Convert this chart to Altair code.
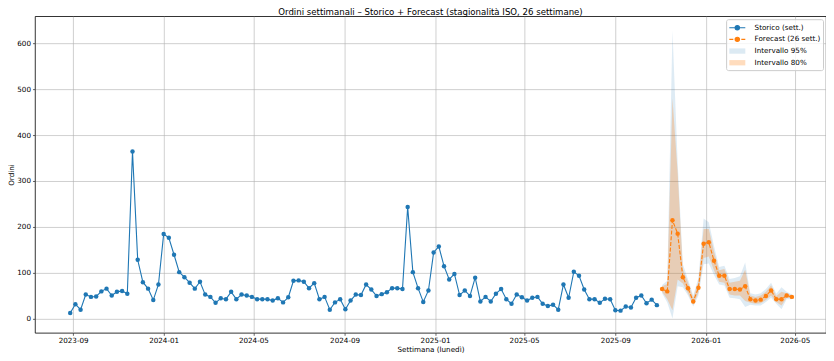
import altair as alt
import pandas as pd

# ---- data ----
hist_start = "2023-08-28"
hist_values = [
    12, 31, 19, 52, 47, 48, 59, 65, 50, 58, 60, 54, 364, 128, 79, 65, 40, 74,
    184, 176, 139, 101, 90, 78, 65, 80, 52, 47, 34, 44, 42, 58,
    42, 52, 50, 47, 42, 42, 42, 39, 44, 35, 46, 82, 83, 80, 66, 77, 42, 47,
    19, 35, 42, 20, 39, 52, 51, 74, 63, 49, 53, 57, 66, 66, 64, 243, 101, 66,
    36, 61,
    144, 157, 114, 85, 97, 51, 61, 49, 89, 37, 47, 37, 54, 64, 42, 32, 52, 46,
    39, 45, 47, 32, 27, 30, 19, 74, 45, 102, 93, 63, 42, 42, 34, 43, 42, 18,
    17, 26, 24, 45, 50, 33, 41, 29,
]

fc_start = "2025-11-03"
fc_values = [64, 59, 214, 185, 90, 66, 37, 67, 163, 166, 126, 93, 93, 64, 64,
             63, 70, 42, 39, 41, 49, 61, 42, 42, 50, 47]
lo95 = [55, 35, 0, 70, 68, 50, 26, 50, 118, 120, 95, 74, 72, 45, 44, 42, 25,
        30, 28, 28, 36, 45, 32, 20, 42, 42]
hi95 = [73, 82, 628, 340, 118, 85, 50, 88, 218, 210, 158, 112, 115, 86, 88, 92,
        122, 55, 52, 55, 64, 78, 54, 68, 58, 52]
lo80 = [58, 42, 18, 85, 76, 55, 30, 56, 132, 135, 105, 80, 78, 52, 50, 50, 38,
        34, 32, 33, 40, 50, 36, 28, 45, 44]
hi80 = [70, 75, 480, 318, 108, 78, 45, 80, 195, 195, 146, 105, 108, 78, 80, 82,
        106, 50, 47, 50, 58, 72, 49, 58, 55, 50]

y_ticks = [0, 100, 200, 300, 400, 500, 600]
x_ticks = [(2023, 9), (2024, 1), (2024, 5), (2024, 9), (2025, 1), (2025, 5),
           (2025, 9), (2026, 1), (2026, 5)]

S_HIST = "Storico (sett.)"
S_FC = "Forecast (26 sett.)"
S_95 = "Intervallo 95%"
S_80 = "Intervallo 80%"
BLUE = "#1f77b4"
ORANGE = "#ff7f0e"

hist = pd.DataFrame({
    "date": pd.date_range(hist_start, periods=len(hist_values), freq="7D").strftime("%Y-%m-%d"),
    "value": hist_values,
    "series": S_HIST,
})
fc = pd.DataFrame({
    "date": pd.date_range(fc_start, periods=len(fc_values), freq="7D").strftime("%Y-%m-%d"),
    "value": fc_values, "lo95": lo95, "hi95": hi95, "lo80": lo80, "hi80": hi80,
    "series": S_FC, "b95": S_95, "b80": S_80,
})

FONT = "DejaVu Sans"

color_scale = alt.Scale(domain=[S_HIST, S_FC, S_95, S_80],
                        range=[BLUE, ORANGE, BLUE, ORANGE])

P_SOLID = ("M-1.6,0L1.6,0M0.44,0A0.44,0.44,0,1,1,-0.44,0"
           "A0.44,0.44,0,1,1,0.44,0Z")
P_DASH = ("M-1.6,0L-0.8,0M-0.45,0L0.45,0M0.8,0L1.6,0"
          "M0.44,0A0.44,0.44,0,1,1,-0.44,0A0.44,0.44,0,1,1,0.44,0Z")
P_RECT = "M-1.6,-0.53L1.6,-0.53L1.6,0.53L-1.6,0.53Z"

legend = alt.Legend(
    title=None, orient="top-right", offset=3,
    symbolType={"expr": f"datum.value == '{S_HIST}' ? '{P_SOLID}' : datum.value == '{S_FC}' ? '{P_DASH}' : '{P_RECT}'"},
    symbolStrokeColor={"expr": f"datum.value == '{S_HIST}' ? '{BLUE}' : datum.value == '{S_FC}' ? '{ORANGE}' : 'transparent'"},
    symbolOpacity={"expr": f"datum.value == '{S_95}' ? 0.15 : datum.value == '{S_80}' ? 0.27 : 1"},
    symbolStrokeWidth=1.1, symbolSize=100, symbolOffset=2.7,
    labelOffset=11.3, labelFont=FONT, labelFontSize=7.2, labelColor="black",
    padding=2.5, rowPadding=0.7, fillColor="rgba(255,255,255,0.8)",
    strokeColor="#cccccc", cornerRadius=2,
)

x_enc = alt.X("date:T", title="Settimana (lunedì)",
              scale=alt.Scale(type="utc",
                              domain=[alt.DateTime(year=2023, month=7, date=11, hours=12, utc=True),
                                      alt.DateTime(year=2026, month=6, date=12, utc=True)]),
              axis=alt.Axis(values=[alt.DateTime(year=y, month=m, date=1, utc=True) for y, m in x_ticks],
                            labelExpr="utcFormat(datum.value, '%Y-%m')", labelAngle=0))
y_scale = alt.Scale(domain=[-31.4, 659.4], nice=False, zero=False)
y_axis = alt.Axis(values=y_ticks, title="Ordini")

area95 = alt.Chart(fc).mark_area(fillOpacity=0.15).encode(
    x=x_enc, y=alt.Y("lo95:Q", scale=y_scale, axis=y_axis), y2="hi95:Q",
    color=alt.Color("b95:N", scale=color_scale, legend=legend))
area80 = alt.Chart(fc).mark_area(fillOpacity=0.27).encode(
    x=x_enc, y=alt.Y("lo80:Q", scale=y_scale, axis=y_axis), y2="hi80:Q",
    color=alt.Color("b80:N", scale=color_scale, legend=legend))

hist_line = alt.Chart(hist).mark_line(strokeWidth=1.1, color=BLUE).encode(
    x=x_enc, y=alt.Y("value:Q", scale=y_scale, axis=y_axis))
hist_pts = alt.Chart(hist).mark_circle(size=20, opacity=1).encode(
    x=x_enc, y=alt.Y("value:Q", scale=y_scale, axis=y_axis),
    color=alt.Color("series:N", scale=color_scale, legend=legend))
fc_line = alt.Chart(fc).mark_line(strokeWidth=1.1, color=ORANGE, strokeDash=[4, 1.7]).encode(
    x=x_enc, y=alt.Y("value:Q", scale=y_scale, axis=y_axis))
fc_pts = alt.Chart(fc).mark_circle(size=20, opacity=1).encode(
    x=x_enc, y=alt.Y("value:Q", scale=y_scale, axis=y_axis),
    color=alt.Color("series:N", scale=color_scale, legend=legend))

chart = alt.layer(area95, area80, hist_line, hist_pts, fc_line, fc_pts).properties(
    width=792, height=317,
    autosize=alt.AutoSizeParams(type="none"),
    padding={"left": 27, "top": 8, "right": 0, "bottom": 20},
    title=alt.Title("Ordini settimanali – Storico + Forecast (stagionalità ISO, 26 settimane)",
                    font=FONT, fontSize=8.6, fontWeight="normal", color="black",
                    anchor="middle", offset=0),
).configure_view(
    stroke="black", strokeWidth=0.8
).configure_axis(
    domain=False, grid=True, gridColor="#b0b0b0", gridWidth=0.6,
    tickColor="black", tickSize=2.5, tickWidth=0.6,
    labelFont=FONT, labelFontSize=7.2, labelColor="black", labelPadding=2,
    titleFont=FONT, titleFontSize=7.2, titleFontWeight="normal", titleColor="black",
).configure_axisY(titlePadding=1).configure_axisX(titlePadding=2, labelPadding=1.5)

chart.save("out.html", embed_options={"renderer": "svg", "actions": False})
